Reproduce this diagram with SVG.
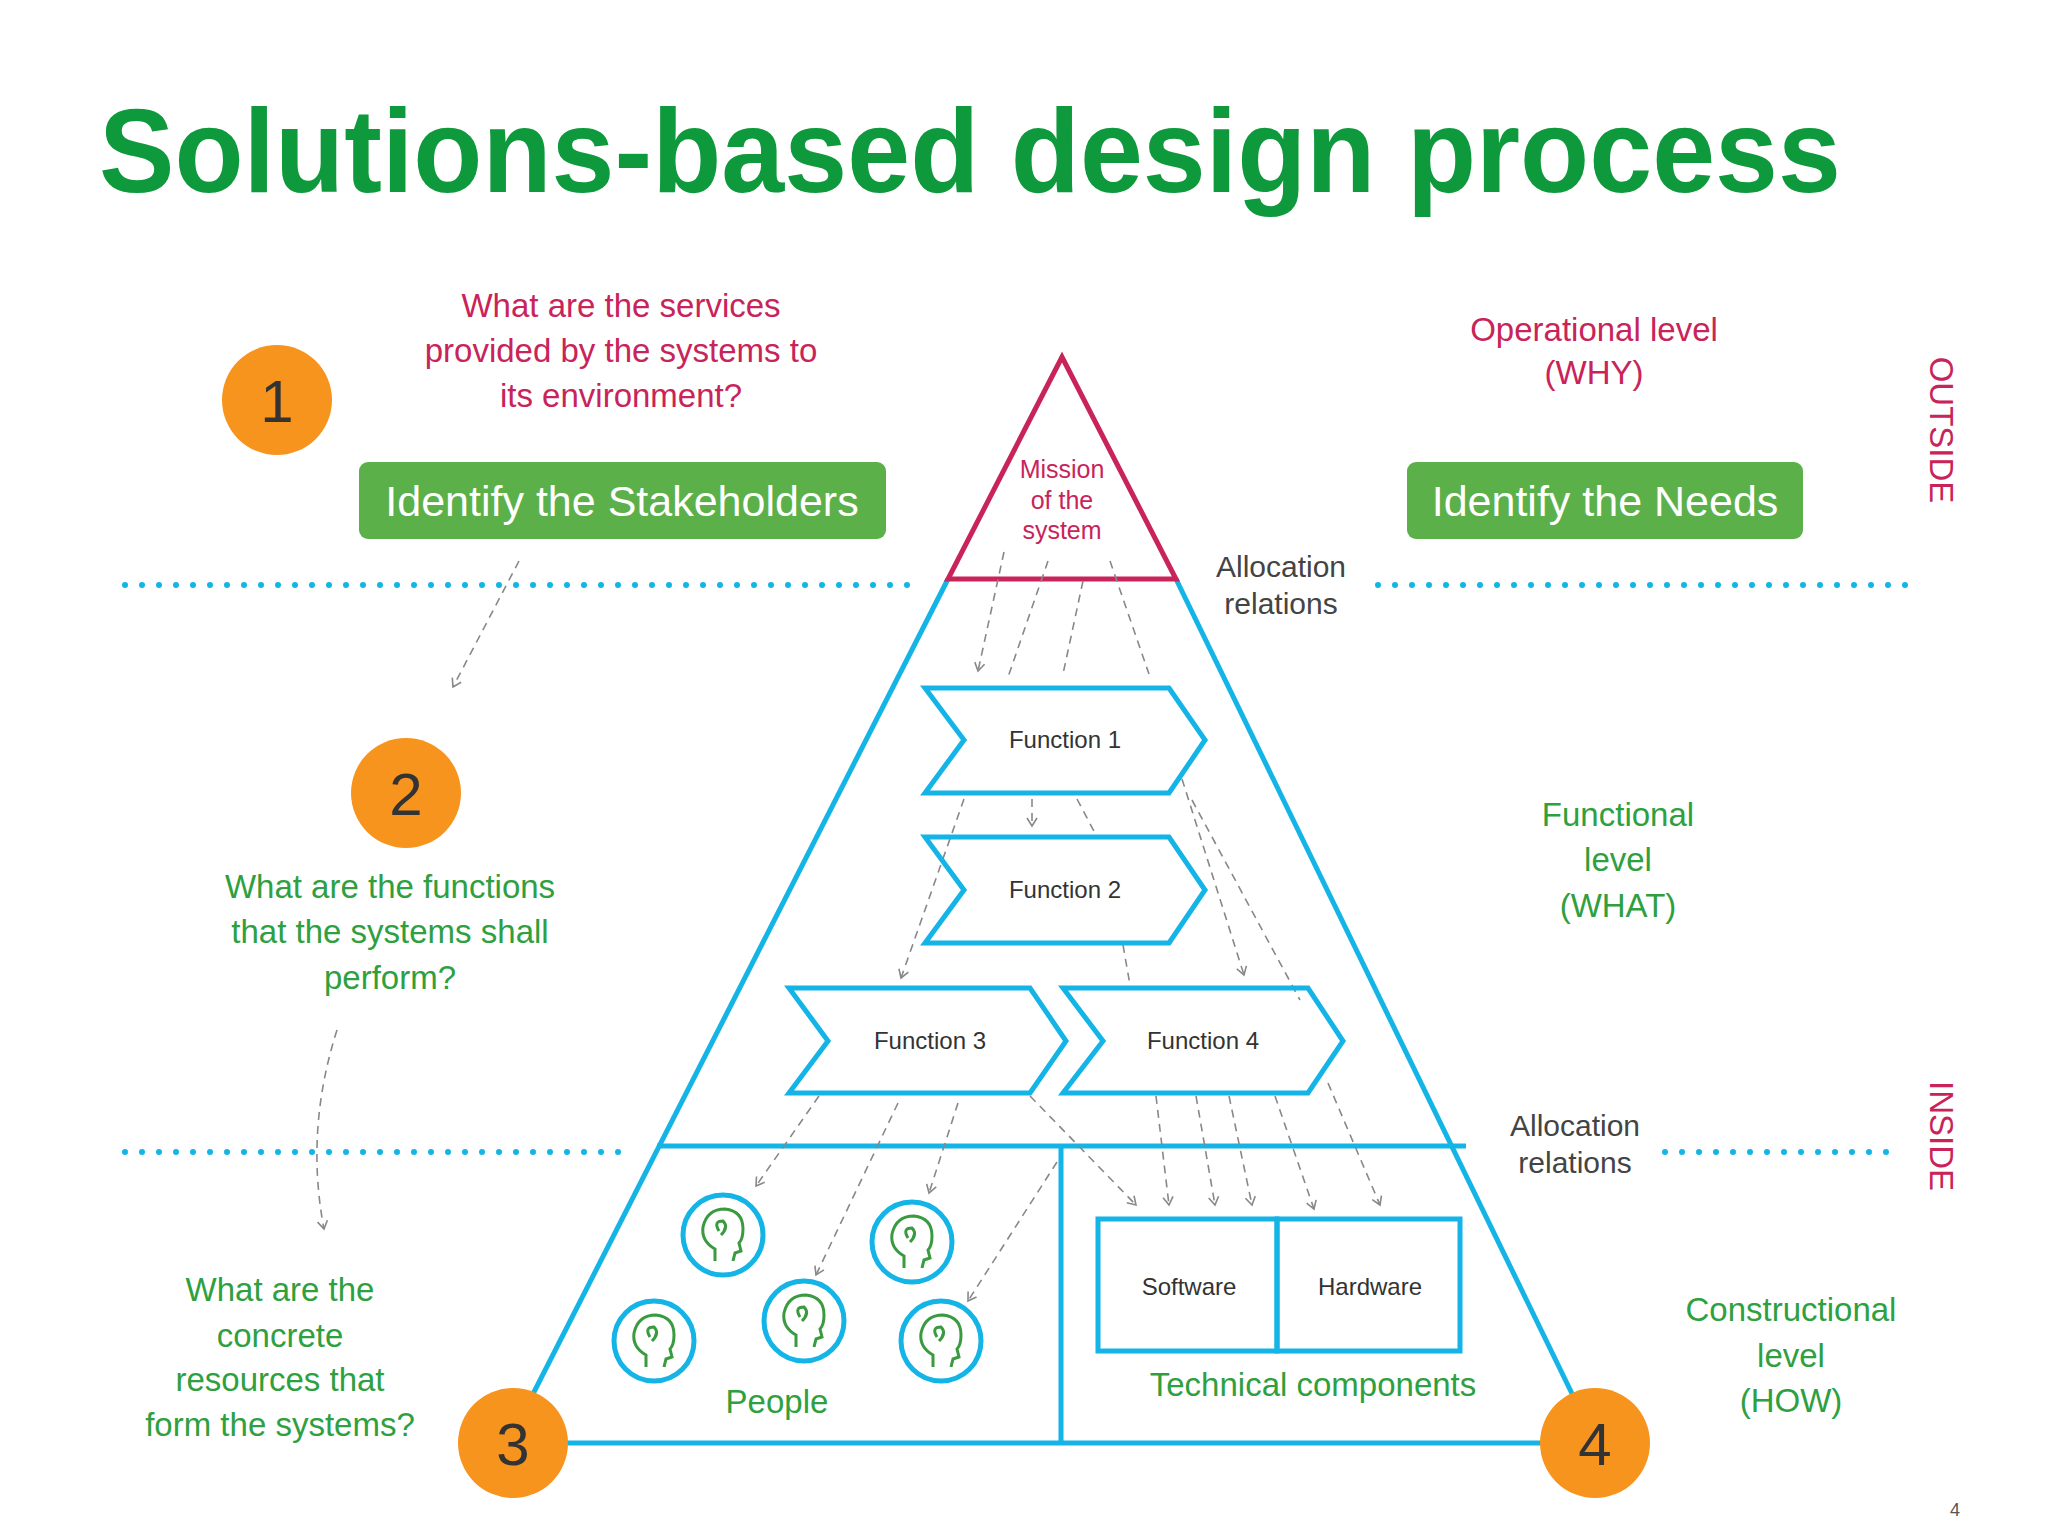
<svg xmlns="http://www.w3.org/2000/svg" width="2048" height="1536" viewBox="0 0 2048 1536">
<defs>
<style>
.t{font-family:"Liberation Sans",Arial,sans-serif;text-anchor:middle}
.cr{fill:#c8245a;font-size:33px}
.gr{fill:#2ea040;font-size:33px}
.gy{fill:#444;font-size:30px}
.fn{fill:#333;font-size:24px}
.cy{fill:none;stroke:#14b4e6;stroke-width:5}
.dot{stroke:#14b4e6;stroke-width:6;stroke-linecap:round;stroke-dasharray:0 17}
.ar{stroke:#888;stroke-width:1.6;stroke-dasharray:8 6;fill:none;marker-end:url(#ah)}
.num{fill:#f7941d}
.nt{font-family:"Liberation Sans",Arial,sans-serif;text-anchor:middle;font-size:60px;fill:#333}
.gb{fill:#5cb04a}
.wt{font-family:"Liberation Sans",Arial,sans-serif;text-anchor:middle;font-size:43px;fill:#fff}
.head{fill:none;stroke:#3a9a40;stroke-width:3}
</style>
<marker id="ah" markerWidth="12" markerHeight="12" refX="10" refY="6" orient="auto" markerUnits="userSpaceOnUse">
<path d="M2,1 L10,6 L2,11" fill="none" stroke="#888" stroke-width="1.6"/>
</marker>
</defs>
<rect width="2048" height="1536" fill="#fff"/>
<text x="99" y="192" font-family="Liberation Sans,Arial,sans-serif" font-weight="bold" font-size="118" fill="#0e9a3c" textLength="1742" lengthAdjust="spacingAndGlyphs">Solutions-based design process</text>

<g id="separators">
<line class="dot" x1="125" y1="585" x2="918" y2="585"/>
<line class="dot" x1="1378" y1="585" x2="1912" y2="585"/>
<line class="dot" x1="125" y1="1152" x2="632" y2="1152"/>
<line class="dot" x1="1665" y1="1152" x2="1898" y2="1152"/>
</g>

<g id="pyramid">
<line class="cy" x1="948" y1="579" x2="508" y2="1443"/>
<line class="cy" x1="1176" y1="579" x2="1596" y2="1443"/>
<line class="cy" x1="540" y1="1443" x2="1570" y2="1443"/>
<line class="cy" x1="657" y1="1146" x2="1466" y2="1146"/>
<line class="cy" x1="1061" y1="1146" x2="1061" y2="1443"/>
</g>

<g id="mission">
<polygon points="1062,357 948,579 1176,579" fill="#fff" stroke="#c8245a" stroke-width="5"/>
<text class="t" fill="#c8245a" font-size="25" x="1062" y="478">Mission</text>
<text class="t" fill="#c8245a" font-size="25" x="1062" y="509">of the</text>
<text class="t" fill="#c8245a" font-size="25" x="1062" y="539">system</text>
</g>

<g id="connectors">
<path class="ar" d="M519,561 L453,687"/>
<path class="ar" d="M337,1030 Q305,1130 324,1229"/>
<path class="ar" d="M1004,552 L978,671"/>
<path class="ar" d="M1048,561 L1007,680" style="marker-end:none"/>
<path class="ar" d="M1083,581 L1063,674" style="marker-end:none"/>
<path class="ar" d="M1110,561 L1149,674" style="marker-end:none"/>
<path class="ar" d="M1032,799 L1032,826"/>
<path class="ar" d="M964,799 L901,978"/>
<path class="ar" d="M1077,799 L1096,835" style="marker-end:none"/>
<path class="ar" d="M1123,945 L1130,985" style="marker-end:none"/>
<path class="ar" d="M1182,779 L1244,975"/>
<path class="ar" d="M1192,800 L1300,1000" style="marker-end:none"/>
<path class="ar" d="M819,1096 L756,1186"/>
<path class="ar" d="M898,1103 L816,1275"/>
<path class="ar" d="M958,1103 L929,1193"/>
<path class="ar" d="M1057,1162 L968,1301"/>
<path class="ar" d="M1030,1096 L1136,1205"/>
<path class="ar" d="M1156,1096 L1169,1205"/>
<path class="ar" d="M1196,1096 L1215,1205"/>
<path class="ar" d="M1229,1096 L1252,1205"/>
<path class="ar" d="M1275,1096 L1314,1209"/>
<path class="ar" d="M1328,1083 L1380,1205"/>
</g>

<g id="function1">
<path class="cy" fill="#fff" d="M925,688 L1169,688 L1205,740 L1169,793 L925,793 L964,740 Z"/>
<text class="t fn" x="1065" y="748">Function 1</text>
</g>
<g id="function2">
<path class="cy" d="M925,837 L1169,837 L1205,890 L1169,943 L925,943 L964,890 Z"/>
<text class="t fn" x="1065" y="898">Function 2</text>
</g>
<g id="function3">
<path class="cy" d="M789,988 L1030,988 L1066,1041 L1030,1093 L789,1093 L828,1041 Z"/>
<text class="t fn" x="930" y="1049">Function 3</text>
</g>
<g id="function4">
<path class="cy" d="M1063,988 L1308,988 L1343,1041 L1308,1093 L1063,1093 L1103,1041 Z"/>
<text class="t fn" x="1203" y="1049">Function 4</text>
</g>

<g id="software">
<rect class="cy" x="1098" y="1219" width="179" height="132"/>
<text class="t fn" x="1189" y="1295">Software</text>
</g>
<g id="hardware">
<rect class="cy" x="1277" y="1219" width="183" height="132"/>
<text class="t fn" x="1370" y="1295">Hardware</text>
</g>
<text class="t gr" x="1313" y="1396">Technical components</text>

<g id="people">
<g transform="translate(723,1235)"><circle r="40" fill="#fff" stroke="#14b4e6" stroke-width="5"/><path class="head" d="M-8,26 L-8,14 Q-22,6 -20,-8 Q-16,-26 2,-26 Q20,-24 20,-6 Q20,4 16,8 L18,16 L12,18 L10,26 M-4,-4 Q-10,-14 0,-14 Q6,-8 -2,0"/></g>
<g transform="translate(912,1242)"><circle r="40" fill="#fff" stroke="#14b4e6" stroke-width="5"/><path class="head" d="M-8,26 L-8,14 Q-22,6 -20,-8 Q-16,-26 2,-26 Q20,-24 20,-6 Q20,4 16,8 L18,16 L12,18 L10,26 M-4,-4 Q-10,-14 0,-14 Q6,-8 -2,0"/></g>
<g transform="translate(654,1341)"><circle r="40" fill="#fff" stroke="#14b4e6" stroke-width="5"/><path class="head" d="M-8,26 L-8,14 Q-22,6 -20,-8 Q-16,-26 2,-26 Q20,-24 20,-6 Q20,4 16,8 L18,16 L12,18 L10,26 M-4,-4 Q-10,-14 0,-14 Q6,-8 -2,0"/></g>
<g transform="translate(804,1321)"><circle r="40" fill="#fff" stroke="#14b4e6" stroke-width="5"/><path class="head" d="M-8,26 L-8,14 Q-22,6 -20,-8 Q-16,-26 2,-26 Q20,-24 20,-6 Q20,4 16,8 L18,16 L12,18 L10,26 M-4,-4 Q-10,-14 0,-14 Q6,-8 -2,0"/></g>
<g transform="translate(941,1341)"><circle r="40" fill="#fff" stroke="#14b4e6" stroke-width="5"/><path class="head" d="M-8,26 L-8,14 Q-22,6 -20,-8 Q-16,-26 2,-26 Q20,-24 20,-6 Q20,4 16,8 L18,16 L12,18 L10,26 M-4,-4 Q-10,-14 0,-14 Q6,-8 -2,0"/></g>
<text class="t gr" x="777" y="1413">People</text>
</g>

<g id="stakeholders">
<rect class="gb" x="359" y="462" width="527" height="77" rx="9"/>
<text class="wt" x="622" y="516">Identify the Stakeholders</text>
</g>
<g id="needs">
<rect class="gb" x="1407" y="462" width="396" height="77" rx="9"/>
<text class="wt" x="1605" y="516">Identify the Needs</text>
</g>

<g id="n1"><circle class="num" cx="277" cy="400" r="55"/><text class="nt" x="277" y="422">1</text></g>
<g id="n2"><circle class="num" cx="406" cy="793" r="55"/><text class="nt" x="406" y="815">2</text></g>
<g id="n3"><circle class="num" cx="513" cy="1443" r="55"/><text class="nt" x="513" y="1465">3</text></g>
<g id="n4"><circle class="num" cx="1595" cy="1443" r="55"/><text class="nt" x="1595" y="1465">4</text></g>

<g id="labels">
<text class="t cr" x="621" y="317">What are the services</text>
<text class="t cr" x="621" y="362">provided by the systems to</text>
<text class="t cr" x="621" y="407">its environment?</text>
<text class="t cr" x="1594" y="341">Operational level</text>
<text class="t cr" x="1594" y="384">(WHY)</text>
<text class="t cr" transform="translate(1930,430) rotate(90)">OUTSIDE</text>
<text class="t cr" transform="translate(1930,1136) rotate(90)">INSIDE</text>
<text class="t gy" x="1281" y="577">Allocation</text>
<text class="t gy" x="1281" y="614">relations</text>
<text class="t gy" x="1575" y="1136">Allocation</text>
<text class="t gy" x="1575" y="1173">relations</text>
<text class="t gr" x="390" y="898">What are the functions</text>
<text class="t gr" x="390" y="943">that the systems shall</text>
<text class="t gr" x="390" y="989">perform?</text>
<text class="t gr" x="280" y="1301">What are the</text>
<text class="t gr" x="280" y="1347">concrete</text>
<text class="t gr" x="280" y="1391">resources that</text>
<text class="t gr" x="280" y="1436">form the systems?</text>
<text class="t gr" x="1618" y="826">Functional</text>
<text class="t gr" x="1618" y="871">level</text>
<text class="t gr" x="1618" y="917">(WHAT)</text>
<text class="t gr" x="1791" y="1321">Constructional</text>
<text class="t gr" x="1791" y="1367">level</text>
<text class="t gr" x="1791" y="1412">(HOW)</text>
<text class="t" font-size="18" fill="#555" x="1955" y="1516">4</text>
</g>
</svg>
